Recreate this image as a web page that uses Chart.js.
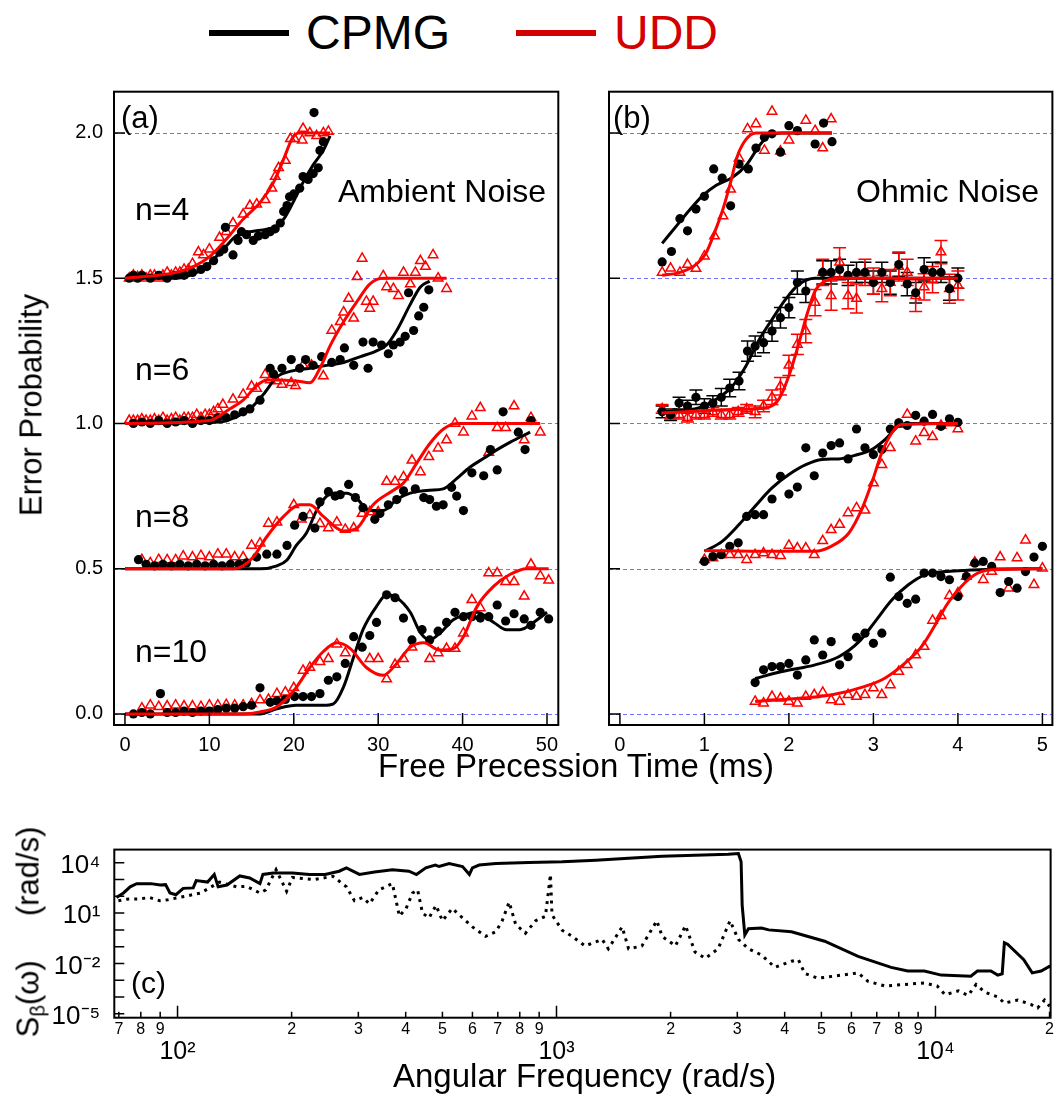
<!DOCTYPE html>
<html>
<head>
<meta charset="utf-8">
<script src="https://cdn.jsdelivr.net/npm/chart.js@4.4.1/dist/chart.umd.min.js"></script>
<style>
  body { margin: 0; background: #fff; width: 1056px; height: 1103px; overflow: hidden; position: relative;
         font-family: 'Liberation Sans', Arial, sans-serif; }
  canvas { position: absolute; }
  .t { position: absolute; white-space: nowrap; line-height: 1; color: #000; }
  .rot { transform: translate(-50%, -50%) rotate(-90deg); }
  .bar { position: absolute; height: 6px; width: 80px; top: 30px; }
  sub { font-size: 0.65em; vertical-align: -0.3em; line-height: 0; }
</style>
</head>
<body>
<canvas id="chartA" width="570" height="740" style="left:0;top:60px"></canvas>
<canvas id="chartB" width="486" height="740" style="left:570px;top:60px"></canvas>
<canvas id="chartC" width="1056" height="283" style="left:0;top:820px"></canvas>

<div class="bar" style="left:209px;background:#000"></div>
<div class="t" style="left:306px;top:9px;font-size:48px">CPMG</div>
<div class="bar" style="left:516px;background:#d40000"></div>
<div class="t" style="left:614px;top:9px;font-size:48px;color:#d40000">UDD</div>

<div class="t" style="left:121px;top:102px;font-size:31px">(a)</div>
<div class="t" style="left:613px;top:102px;font-size:31px">(b)</div>
<div class="t" style="left:135px;top:193px;font-size:32px">n=4</div>
<div class="t" style="left:135px;top:353px;font-size:32px">n=6</div>
<div class="t" style="left:135px;top:500px;font-size:32px">n=8</div>
<div class="t" style="left:135px;top:635px;font-size:32px">n=10</div>
<div class="t" style="left:338px;top:175px;font-size:32px">Ambient Noise</div>
<div class="t" style="left:856px;top:175px;font-size:32px">Ohmic Noise</div>
<div class="t" style="left:131px;top:968px;font-size:30px">(c)</div>

<div class="t rot" style="left:31px;top:405px;font-size:31px">Error Probability</div>
<div class="t" style="left:378px;top:749px;font-size:33px">Free Precession Time (ms)</div>
<div class="t rot" style="left:28px;top:932px;font-size:31px">S<sub>β</sub>(ω)<span style="display:inline-block;width:44px"></span>(rad/s)</div>
<div class="t" style="left:393px;top:1059px;font-size:33px">Angular Frequency (rad/s)</div>

<script>
// ---------- panel (a): ambient noise ----------
const a4CpmgX = [0.5, 1, 1.5, 2, 3, 4, 5, 6, 7, 8, 9, 9.7, 10.5, 11.2, 11.7, 11.9, 12.8, 13.4, 13.8, 14.4, 15.2, 15.8, 16.6, 17.2, 17.8, 18.4, 18.8, 19.2, 19.5, 20.0, 20.7, 21.1, 21.7, 22.3, 22.4, 22.9, 23.1, 23.5];
const a4CpmgY = [1.50, 1.51, 1.50, 1.51, 1.50, 1.51, 1.50, 1.51, 1.51, 1.52, 1.53, 1.54, 1.56, 1.59, 1.60, 1.675, 1.58, 1.63, 1.66, 1.65, 1.63, 1.645, 1.65, 1.66, 1.67, 1.69, 1.73, 1.75, 1.78, 1.79, 1.81, 1.85, 1.84, 1.86, 2.07, 1.88, 1.94, 1.97];
const a4UddX = [0.5, 1, 1.5, 2, 2.5, 3, 3.5, 4, 4.5, 5, 5.5, 6, 6.5, 7, 7.5, 8, 8.7, 9.3, 10, 11.2, 12, 12.8, 14.0, 14.8, 15.6, 16.6, 17.4, 17.8, 18.2, 19.0, 19.6, 20.1, 21.0, 21.1, 21.9, 22.7, 23.5, 24.1];
const a4UddY = [1.50, 1.51, 1.505, 1.51, 1.50, 1.51, 1.51, 1.50, 1.51, 1.52, 1.51, 1.52, 1.52, 1.53, 1.53, 1.55, 1.59, 1.58, 1.60, 1.64, 1.66, 1.69, 1.72, 1.75, 1.755, 1.77, 1.81, 1.85, 1.88, 1.905, 1.98, 1.98, 1.975, 2.015, 2.0, 1.99, 2.0, 2.005];
const a4CpmgFitX = [0, 6.1, 8.5, 10.1, 12, 13.2, 14.8, 16.8, 18, 18.8, 19.9, 21.1, 22.3, 23.5, 24.3];
const a4CpmgFitY = [1.50, 1.50, 1.52, 1.554, 1.611, 1.646, 1.66, 1.669, 1.68, 1.703, 1.76, 1.83, 1.89, 1.94, 1.99];
const a4UddFitX = [0, 6.1, 8.1, 10.1, 12, 14, 16, 17.6, 18.8, 19.8, 20.6, 24.3];
const a4UddFitY = [1.50, 1.52, 1.54, 1.576, 1.634, 1.703, 1.76, 1.83, 1.91, 1.98, 2.0, 2.0];

const a6CpmgX = [1, 2, 3, 4, 5, 6, 7, 8, 9, 10, 11, 12, 13, 14, 14.8, 16, 17.2, 17.6, 18.6, 19.7, 20.7, 21.4, 22.3, 23.3, 24.5, 25.5, 26, 27.1, 28.2, 28.8, 29.4, 30.4, 31.2, 31.8, 32.6, 33.2, 33.6, 34.2, 34.8, 35.4, 36];
const a6CpmgY = [1.0, 1.005, 1.0, 1.01, 1.0, 1.005, 1.01, 1.0, 1.01, 1.01, 1.02, 1.02, 1.03, 1.04, 1.05, 1.08, 1.19, 1.17, 1.19, 1.22, 1.19, 1.22, 1.20, 1.23, 1.21, 1.22, 1.26, 1.20, 1.28, 1.19, 1.28, 1.27, 1.24, 1.27, 1.28, 1.30, 1.45, 1.32, 1.37, 1.40, 1.46];
const a6UddX = [0.5, 1, 1.5, 2, 2.5, 3, 3.5, 4, 4.5, 5, 5.5, 6, 6.5, 7, 7.5, 8, 8.5, 9, 9.5, 10, 10.5, 11, 11.6, 12.8, 14, 15, 15.6, 16.6, 17.2, 18, 18.6, 19.7, 20.2, 21.1, 22.1, 23.5, 24.5, 25.5, 25.9, 26.5, 27.1, 27.5, 28.1, 28.6, 29, 29.4, 30.6, 31, 31.8, 32.4, 33, 33.8, 34.4, 35, 35.6, 36.5, 37.1, 38.1];
const a6UddY = [1.01, 1.01, 1.01, 1.015, 1.01, 1.01, 1.015, 1.01, 1.02, 1.01, 1.015, 1.02, 1.01, 1.02, 1.02, 1.02, 1.03, 1.02, 1.03, 1.03, 1.04, 1.05, 1.065, 1.083, 1.10, 1.128, 1.12, 1.168, 1.15, 1.146, 1.134, 1.14, 1.13, 1.20, 1.20, 1.163, 1.32, 1.35, 1.383, 1.43, 1.362, 1.505, 1.568, 1.42, 1.396, 1.42, 1.508, 1.47, 1.464, 1.44, 1.52, 1.48, 1.52, 1.56, 1.54, 1.58, 1.50, 1.464];
const a6CpmgFitX = [0, 11.3, 13, 14.8, 16.4, 18, 19.7, 21.9, 23.9, 25.9, 27.9, 29.8, 31, 32.2, 33.8, 35, 36.1];
const a6CpmgFitY = [1.0, 1.005, 1.02, 1.05, 1.10, 1.16, 1.18, 1.19, 1.20, 1.21, 1.23, 1.25, 1.27, 1.32, 1.41, 1.47, 1.49];
const a6UddFitX = [0, 10, 12.4, 14, 15.6, 16.8, 18, 20.3, 21.9, 23.1, 24.3, 25.9, 27.5, 29, 30.6, 38.1];
const a6UddFitY = [1.0, 1.01, 1.05, 1.08, 1.13, 1.15, 1.15, 1.146, 1.14, 1.19, 1.267, 1.35, 1.42, 1.48, 1.50, 1.50];

const a8CpmgX = [1.6, 2.5, 3.5, 4.5, 5.5, 6.5, 7.5, 8.5, 9.5, 10.5, 11.5, 12.5, 13.5, 14.4, 15.6, 16.8, 18, 19.2, 20.1, 21.1, 22.5, 23.1, 24.1, 24.9, 25.5, 26.5, 27.3, 28.2, 29.6, 30.2, 31.2, 32.2, 33, 34.4, 35.4, 36.1, 36.9, 37.7, 38.7, 39.3, 40.1, 41.1, 42.5, 43.3, 44.1, 44.8, 46.6, 47.4, 48.1];
const a8CpmgY = [0.531, 0.515, 0.51, 0.515, 0.51, 0.515, 0.51, 0.515, 0.51, 0.515, 0.51, 0.515, 0.515, 0.52, 0.54, 0.55, 0.55, 0.58, 0.65, 0.68, 0.64, 0.73, 0.765, 0.75, 0.755, 0.79, 0.745, 0.71, 0.67, 0.69, 0.72, 0.738, 0.768, 0.775, 0.745, 0.738, 0.715, 0.72, 0.78, 0.75, 0.70, 0.83, 0.82, 0.91, 0.84, 1.04, 0.97, 0.91, 1.01];
const a8UddX = [2, 3, 4, 5, 6, 6.9, 8, 9, 10, 11, 12, 13, 14, 15, 16, 17, 18, 20, 20.9, 21.9, 23.1, 24.1, 25.1, 26.1, 27.1, 28.1, 29, 30, 31, 32, 33, 34, 35, 36, 37.1, 38.1, 39.1, 40.1, 41.1, 42.1, 43.1, 44.1, 45.1, 46.1, 47.3, 48.1, 49.2];
const a8UddY = [0.531, 0.52, 0.531, 0.53, 0.53, 0.543, 0.54, 0.545, 0.54, 0.55, 0.55, 0.54, 0.54, 0.58, 0.588, 0.656, 0.66, 0.72, 0.67, 0.685, 0.655, 0.64, 0.66, 0.635, 0.64, 0.69, 0.695, 0.695, 0.80, 0.80, 0.816, 0.873, 0.833, 0.885, 0.915, 0.943, 1.0, 0.97, 1.025, 1.054, 0.90, 0.985, 0.985, 1.06, 0.943, 1.02, 0.97];
const a8CpmgFitX = [0, 16, 18, 19.2, 20.3, 21.5, 22.7, 23.9, 25.1, 26.3, 27.5, 29, 30.6, 32.2, 33.8, 36.1, 37.7, 39.3, 40.9, 42.5, 44.1, 45.6, 48];
const a8CpmgFitY = [0.50, 0.50, 0.51, 0.53, 0.58, 0.623, 0.70, 0.75, 0.76, 0.76, 0.74, 0.70, 0.70, 0.738, 0.76, 0.77, 0.775, 0.81, 0.85, 0.88, 0.91, 0.935, 0.97];
const a8UddFitX = [0, 13, 14, 15.2, 16.8, 18.8, 20.7, 21.9, 23.5, 25.9, 27.5, 29.4, 31.8, 33, 34.6, 36.1, 37.7, 39.3, 49.2];
const a8UddFitY = [0.50, 0.50, 0.51, 0.54, 0.61, 0.68, 0.72, 0.72, 0.68, 0.63, 0.64, 0.72, 0.77, 0.795, 0.865, 0.93, 0.98, 1.0, 1.0];

const a10CpmgX = [1, 2, 3, 4.2, 5, 6, 7, 8, 9, 10, 11, 12, 13, 14, 15, 16, 17.2, 18, 19, 20.1, 21.1, 22.1, 23.1, 24.1, 25.1, 26.1, 27.1, 28.1, 29, 29.8, 31, 32, 33, 34, 35.2, 36.1, 37.1, 38.1, 39.1, 40.1, 41.1, 42.1, 43.1, 44.1, 45.1, 46.1, 47.3, 48.1, 49.2, 50.2];
const a10CpmgY = [0.0, 0.005, 0.0, 0.07, 0.005, 0.005, 0.01, 0.005, 0.01, 0.01, 0.015, 0.02, 0.02, 0.025, 0.03, 0.09, 0.04, 0.045, 0.05, 0.06, 0.06, 0.06, 0.07, 0.116, 0.128, 0.174, 0.266, 0.23, 0.27, 0.315, 0.41, 0.40, 0.33, 0.255, 0.29, 0.255, 0.285, 0.315, 0.35, 0.335, 0.335, 0.33, 0.335, 0.375, 0.32, 0.345, 0.327, 0.305, 0.35, 0.327];
const a10UddX = [2, 3, 4, 5, 6, 7, 8, 9, 10, 11, 12, 13, 14, 15, 16, 17, 18, 19, 20, 21.1, 21.9, 23.1, 24.1, 25.1, 26.1, 29, 30, 31, 32, 33, 34, 36.1, 37.1, 38.1, 39.1, 40.1, 41.1, 42.1, 43.1, 44.1, 45.1, 46.1, 47.3, 48.1, 49.2, 50.2];
const a10UddY = [0.02, 0.03, 0.025, 0.027, 0.03, 0.027, 0.027, 0.025, 0.03, 0.03, 0.032, 0.03, 0.03, 0.035, 0.048, 0.05, 0.07, 0.075, 0.09, 0.15, 0.16, 0.18, 0.19, 0.24, 0.21, 0.19, 0.19, 0.12, 0.17, 0.19, 0.23, 0.19, 0.21, 0.225, 0.225, 0.278, 0.393, 0.365, 0.485, 0.485, 0.455, 0.455, 0.405, 0.515, 0.475, 0.46];
const a10CpmgFitX = [0, 16, 18, 20.3, 23.5, 24.7, 25.9, 27.1, 28.2, 29.8, 31, 32.2, 33.8, 35, 36.1, 37.3, 38.9, 40.1, 41.7, 43.7, 45.2, 46.8, 48.4, 50];
const a10CpmgFitY = [0, 0.0, 0.018, 0.03, 0.03, 0.035, 0.093, 0.197, 0.29, 0.37, 0.41, 0.40, 0.35, 0.28, 0.255, 0.278, 0.324, 0.34, 0.35, 0.315, 0.29, 0.29, 0.315, 0.35];
const a10UddFitX = [0, 14, 16, 18, 20, 21.9, 23.5, 25.1, 26.7, 28.6, 30.6, 32.2, 33.8, 35.4, 37.3, 38.9, 40.1, 41.7, 43.7, 45.6, 47.6, 50.2];
const a10UddFitY = [0, 0.0, 0.007, 0.025, 0.08, 0.16, 0.215, 0.245, 0.225, 0.16, 0.133, 0.174, 0.23, 0.245, 0.22, 0.225, 0.266, 0.37, 0.44, 0.48, 0.50, 0.50];

// ---------- panel (b): ohmic noise ----------
const b1CpmgX = [0.5, 0.61, 0.71, 0.8, 0.9, 1.0, 1.11, 1.21, 1.31, 1.41, 1.52, 1.61, 1.71, 1.8, 1.9, 2.0, 2.1, 2.31, 2.41, 2.51];
const b1CpmgY = [1.556, 1.592, 1.705, 1.663, 1.738, 1.782, 1.876, 1.845, 1.749, 1.893, 1.876, 1.948, 1.985, 1.997, 1.934, 2.025, 2.008, 1.962, 2.034, 1.97];
const b1UddX = [0.5, 0.6, 0.71, 0.8, 0.9, 1.0, 1.12, 1.22, 1.31, 1.41, 1.51, 1.61, 1.71, 1.8, 1.9, 2.0, 2.2, 2.31, 2.4, 2.5];
const b1UddY = [1.52, 1.534, 1.52, 1.547, 1.533, 1.576, 1.645, 1.714, 1.806, 1.913, 2.014, 2.031, 1.94, 2.074, 1.937, 1.975, 2.043, 2.008, 1.948, 2.048];
const b1CpmgFitX = [0.5, 0.67, 0.82, 0.98, 1.14, 1.33, 1.49, 1.65, 1.76, 1.92, 2.51];
const b1CpmgFitY = [1.62, 1.68, 1.733, 1.784, 1.82, 1.847, 1.887, 1.956, 1.99, 2.0, 2.0];
const b1UddFitX = [0.5, 0.71, 0.9, 1.02, 1.12, 1.22, 1.31, 1.39, 1.49, 1.61, 2.51];
const b1UddFitY = [1.51, 1.52, 1.547, 1.587, 1.657, 1.738, 1.83, 1.92, 1.977, 2.0, 2.0];

const b2CpmgX = [0.5, 0.6, 0.7, 0.8, 0.9, 1.0, 1.1, 1.2, 1.3, 1.41, 1.51, 1.6, 1.7, 1.8, 1.9, 2.0, 2.1, 2.2, 2.4, 2.5, 2.6, 2.7, 2.8, 2.9, 3.0, 3.1, 3.2, 3.3, 3.4, 3.5, 3.6, 3.7, 3.8, 3.9, 4.0];
const b2CpmgY = [1.04, 1.03, 1.07, 1.06, 1.09, 1.06, 1.07, 1.09, 1.122, 1.146, 1.249, 1.266, 1.278, 1.318, 1.364, 1.399, 1.485, 1.456, 1.52, 1.52, 1.53, 1.51, 1.52, 1.52, 1.485, 1.52, 1.485, 1.547, 1.48, 1.45, 1.53, 1.52, 1.52, 1.464, 1.5];
const b2CpmgErr = [0.02, 0.02, 0.02, 0.02, 0.025, 0.025, 0.025, 0.03, 0.03, 0.03, 0.035, 0.035, 0.035, 0.035, 0.035, 0.035, 0.04, 0.04, 0.04, 0.04, 0.035, 0.035, 0.035, 0.035, 0.04, 0.035, 0.04, 0.04, 0.04, 0.035, 0.04, 0.035, 0.035, 0.04, 0.035];
const b2UddX = [0.5, 0.6, 0.7, 0.8, 0.9, 1.0, 1.1, 1.2, 1.3, 1.4, 1.5, 1.6, 1.7, 1.8, 1.9, 2.0, 2.1, 2.2, 2.31, 2.4, 2.5, 2.6, 2.7, 2.8, 2.9, 3.0, 3.1, 3.2, 3.3, 3.4, 3.5, 3.6, 3.7, 3.8, 3.9, 4.0];
const b2UddY = [1.05, 1.03, 1.03, 1.02, 1.03, 1.03, 1.04, 1.03, 1.03, 1.04, 1.05, 1.04, 1.06, 1.09, 1.128, 1.2, 1.272, 1.318, 1.416, 1.52, 1.44, 1.555, 1.44, 1.43, 1.52, 1.49, 1.464, 1.485, 1.54, 1.52, 1.44, 1.47, 1.495, 1.59, 1.464, 1.475];
const b2UddErr = [0.015, 0.015, 0.015, 0.015, 0.015, 0.015, 0.015, 0.015, 0.015, 0.015, 0.015, 0.02, 0.02, 0.025, 0.03, 0.035, 0.035, 0.04, 0.045, 0.045, 0.05, 0.05, 0.045, 0.05, 0.045, 0.045, 0.045, 0.045, 0.05, 0.045, 0.055, 0.045, 0.045, 0.04, 0.05, 0.05];
const b2CpmgFitX = [0.49, 0.94, 1.14, 1.33, 1.49, 1.65, 1.8, 1.96, 2.12, 2.31, 4.0];
const b2CpmgFitY = [1.04, 1.054, 1.083, 1.128, 1.197, 1.289, 1.358, 1.427, 1.479, 1.5, 1.5];
const b2UddFitX = [0.49, 1.33, 1.73, 1.88, 2.0, 2.12, 2.22, 2.31, 2.43, 2.59, 4.0];
const b2UddFitY = [1.036, 1.048, 1.054, 1.083, 1.164, 1.278, 1.381, 1.456, 1.49, 1.5, 1.5];

const b3X = [1.0, 1.1, 1.2, 1.3, 1.4, 1.5, 1.6, 1.7, 1.8, 1.9, 2.0, 2.1, 2.2, 2.3, 2.4, 2.5, 2.6, 2.7, 2.8, 2.9, 3.0, 3.1, 3.2, 3.3, 3.4, 3.5, 3.6, 3.7, 3.8, 3.9, 4.0];
const b3CpmgY = [0.525, 0.542, 0.548, 0.577, 0.589, 0.68, 0.686, 0.686, 0.74, 0.818, 0.757, 0.781, 0.916, 0.82, 0.898, 0.924, 0.933, 0.878, 0.981, 0.916, 0.893, 0.91, 0.981, 1.002, 0.993, 1.028, 1.008, 1.031, 0.99, 1.016, 1.004];
const b3UddY = [0.531, 0.537, 0.548, 0.548, 0.548, 0.531, 0.548, 0.554, 0.548, 0.545, 0.58, 0.571, 0.571, 0.548, 0.596, 0.634, 0.652, 0.692, 0.709, 0.701, 0.795, 0.858, 0.916, 0.996, 1.031, 0.939, 0.968, 0.954, 0.993, 1.002, 0.981];
const b3CpmgFitX = [1.0, 1.21, 1.41, 1.6, 1.8, 2.0, 2.2, 2.39, 2.59, 2.78, 2.98, 3.14, 3.29, 3.45, 4.0];
const b3CpmgFitY = [0.56, 0.594, 0.652, 0.715, 0.778, 0.824, 0.858, 0.876, 0.878, 0.89, 0.91, 0.945, 0.99, 1.0, 1.0];
const b3UddFitX = [1.0, 1.73, 2.31, 2.5, 2.71, 2.86, 2.98, 3.1, 3.22, 3.33, 4.0];
const b3UddFitY = [0.563, 0.56, 0.56, 0.577, 0.623, 0.703, 0.795, 0.9, 0.968, 0.996, 1.0];

const b4X = [1.6, 1.7, 1.8, 1.9, 2.0, 2.1, 2.2, 2.3, 2.4, 2.5, 2.6, 2.7, 2.8, 2.9, 3.0, 3.1, 3.2, 3.3, 3.4, 3.5, 3.6, 3.7, 3.8, 3.9, 4.0, 4.1, 4.2, 4.3, 4.4, 4.5, 4.6, 4.7, 4.8, 4.9, 5.0];
const b4CpmgY = [0.108, 0.152, 0.163, 0.163, 0.174, 0.134, 0.186, 0.255, 0.203, 0.249, 0.169, 0.197, 0.264, 0.278, 0.243, 0.278, 0.471, 0.404, 0.381, 0.395, 0.485, 0.485, 0.473, 0.462, 0.404, 0.473, 0.519, 0.525, 0.508, 0.418, 0.456, 0.433, 0.49, 0.54, 0.577];
const b4UddY = [0.043, 0.037, 0.06, 0.054, 0.043, 0.037, 0.06, 0.066, 0.074, 0.048, 0.043, 0.066, 0.06, 0.066, 0.089, 0.066, 0.1, 0.146, 0.169, 0.203, 0.232, 0.322, 0.338, 0.407, 0.416, 0.473, 0.522, 0.462, 0.49, 0.54, 0.433, 0.537, 0.598, 0.445, 0.502];
const b4CpmgFitX = [1.6, 1.92, 2.31, 2.59, 2.83, 3.02, 3.22, 3.41, 3.61, 3.84, 4.08, 4.47, 5.0];
const b4CpmgFitY = [0.122, 0.146, 0.169, 0.197, 0.249, 0.318, 0.393, 0.444, 0.479, 0.49, 0.494, 0.499, 0.5];
const b4UddFitX = [1.6, 2.12, 2.51, 2.9, 3.14, 3.37, 3.57, 3.72, 3.88, 4.04, 4.2, 4.39, 5.0];
const b4UddFitY = [0.043, 0.054, 0.066, 0.095, 0.124, 0.174, 0.232, 0.301, 0.381, 0.439, 0.479, 0.496, 0.5];

// ---------- panel (c): noise spectra ----------
const cOmegaSolid = [69, 72, 75, 78, 85, 90, 93, 95.5, 99, 103.5, 110, 112, 120, 125, 128, 135, 146, 155, 165, 168, 179, 201, 223, 245, 267, 279, 302, 331, 369, 408, 427, 452, 479, 490, 521, 565, 589, 600, 625, 692, 845, 1035, 1270, 1550, 1900, 2320, 2840, 3020, 3070, 3090, 3140, 3210, 3475, 3630, 4170, 5100, 6250, 7640, 8450, 9350, 10350, 12400, 12900, 14000, 14600, 15000, 15200, 15500, 17100, 18000, 19000, 20100];
const cSolid = [85, 160, 370, 575, 575, 470, 500, 160, 125, 300, 320, 870, 710, 2040, 370, 470, 1660, 1260, 575, 2040, 2510, 2510, 2040, 2000, 3160, 5000, 2040, 2820, 3890, 3160, 2000, 5000, 7410, 6030, 9120, 6030, 2040, 5000, 7410, 9120, 10500, 11500, 14100, 19000, 24500, 28800, 33100, 36300, 11500, 29, 0.5, 1.17, 1.3, 1.0, 0.78, 0.21, 0.026, 0.0058, 0.0035, 0.0035, 0.002, 0.0017, 0.0035, 0.0035, 0.002, 0.0024, 0.17, 0.14, 0.0166, 0.0027, 0.0035, 0.0071];
const cOmegaDotted = [69.8, 73.5, 79.4, 84.5, 89.7, 94.4, 105.7, 115, 129, 143, 152, 165, 171, 182, 194, 201, 229, 257, 279, 293, 308, 321, 340, 369, 385, 401, 417, 430, 443, 461, 481, 500, 531, 565, 600, 650, 692, 719, 750, 780, 828, 881, 935, 964, 973, 1035, 1100, 1190, 1320, 1370, 1490, 1550, 1680, 1840, 1900, 2060, 2190, 2320, 2470, 2670, 2870, 3020, 3210, 3475, 3770, 4170, 4350, 4520, 4900, 5650, 6250, 6640, 7350, 8280, 9350, 10100, 10600, 11500, 12200, 12800, 13500, 14600, 15200, 16500, 17900, 18600, 19400, 20000];
const cDotted = [55, 68, 71, 85, 55, 63, 105, 158, 708, 372, 398, 158, 245, 3890, 200, 1350, 1000, 1580, 372, 55, 85, 36, 245, 575, 6.6, 19, 158, 245, 10, 5.2, 29, 3.5, 19, 5.2, 1.5, 0.41, 0.78, 3.5, 45, 2.2, 0.63, 3.5, 6.5, 2040, 7.9, 0.95, 0.41, 0.11, 0.27, 0.074, 1.5, 0.074, 0.11, 3.5, 0.41, 0.11, 1.8, 0.048, 0.02, 0.074, 3.5, 0.27, 0.074, 0.032, 0.0058, 0.0135, 0.0166, 0.0025, 0.0013, 0.002, 0.0027, 0.00085, 0.00045, 0.00055, 0.00068, 0.00045, 0.000135, 0.00023, 0.000123, 0.00055, 0.00019, 0.0001, 0.000043, 0.000065, 0.000035, 0.000022, 0.000065, 0.000028];

// tick values
const probTicks = [0, 0.5, 1.0, 1.5, 2.0];
const timeTicksA = [0, 10, 20, 30, 40, 50];
const timeTicksB = [0, 1, 2, 3, 4, 5];
const refLevels = [0, 0.5, 1.0, 1.5, 2.0];
const omegaTicks = [70, 80, 90, 100, 200, 300, 400, 500, 600, 700, 800, 900, 1000, 2000, 3000, 4000, 5000, 6000, 7000, 8000, 9000, 10000, 20000];
const specTicks = [1e-5, 1e-4, 1e-3, 1e-2, 1e-1, 1, 10, 100, 1e3, 1e4];
const specLabelExp = [4, 1, -2, -5];

const FONT = "'Liberation Sans', Arial, sans-serif";
const RED = '#ff0000';

const pts = (xs, ys) => xs.map((x, i) => ({ x: x, y: ys[i] }));
const dots = (xs, ys) => ({ data: pts(xs, ys), showLine: false, pointStyle: 'circle', pointRadius: 4.6,
  pointBackgroundColor: '#000', pointBorderWidth: 0 });
const tris = (xs, ys) => ({ data: pts(xs, ys), showLine: false, pointStyle: 'triangle', pointRadius: 5.5,
  pointBackgroundColor: 'rgba(0,0,0,0)', pointBorderColor: RED, pointBorderWidth: 1.5 });
const fit = (xs, ys, color) => ({ data: pts(xs, ys), showLine: true, pointRadius: 0, borderColor: color,
  borderWidth: 3, cubicInterpolationMode: 'monotone', fill: false });

const SUP = { '-': '\u207B', '0': '\u2070', '1': '\u00B9', '2': '\u00B2', '3': '\u00B3', '4': '\u2074',
  '5': '\u2075', '6': '\u2076', '7': '\u2077', '8': '\u2078', '9': '\u2079' };
const pow10 = e => '10' + String(e).split('').map(c => SUP[c]).join('');
const isDecade = v => Math.abs(Math.log10(v) - Math.round(Math.log10(v))) < 1e-6;

// frame, dashed reference lines, inward ticks and error bars
function makeFrame(cfg) {
  return {
    id: 'frame',
    beforeDatasetsDraw(chart) {
      const { ctx, chartArea: a, scales } = chart;
      ctx.save();
      ctx.beginPath();
      ctx.rect(a.left, a.top, a.right - a.left, a.bottom - a.top);
      ctx.clip();
      ctx.setLineDash([4, 3]);
      ctx.lineWidth = 1;
      ctx.strokeStyle = '#7373ff';
      (cfg.refLines || []).forEach(v => {
        const y = Math.round(scales.y.getPixelForValue(v)) + 0.5;
        ctx.beginPath(); ctx.moveTo(a.left, y); ctx.lineTo(a.right, y); ctx.stroke();
      });
      ctx.setLineDash([]);
      ctx.lineWidth = 1.5;
      (cfg.errorBars || []).forEach(set => {
        ctx.strokeStyle = set.color;
        set.xs.forEach((xv, i) => {
          const x = scales.x.getPixelForValue(xv);
          const y1 = scales.y.getPixelForValue(set.ys[i] - set.errs[i]);
          const y2 = scales.y.getPixelForValue(set.ys[i] + set.errs[i]);
          ctx.beginPath();
          ctx.moveTo(x, y1); ctx.lineTo(x, y2);
          ctx.moveTo(x - 6.5, y1); ctx.lineTo(x + 6.5, y1);
          ctx.moveTo(x - 6.5, y2); ctx.lineTo(x + 6.5, y2);
          ctx.stroke();
        });
      });
      ctx.restore();
    },
    afterDraw(chart) {
      const { ctx, chartArea: a, scales } = chart;
      ctx.save();
      ctx.strokeStyle = '#000';
      ctx.lineWidth = 1.5;
      ctx.beginPath();
      scales.x.ticks.forEach(t => {
        const x = scales.x.getPixelForValue(t.value);
        ctx.moveTo(x, a.bottom); ctx.lineTo(x, a.bottom - cfg.xTickLen(t.value));
      });
      scales.y.ticks.forEach(t => {
        const y = scales.y.getPixelForValue(t.value);
        ctx.moveTo(a.left, y); ctx.lineTo(a.left + cfg.yTickLen, y);
      });
      ctx.stroke();
      ctx.lineWidth = 2;
      ctx.strokeRect(a.left, a.top, a.right - a.left, a.bottom - a.top);
      ctx.restore();
    }
  };
}

function probScales(xMin, xMax, xTicks, showY, yWidth) {
  return {
    x: {
      type: 'linear', min: xMin, max: xMax,
      afterBuildTicks: s => { s.ticks = xTicks.map(v => ({ value: v })); },
      afterFit: s => { s.height = 40; },
      grid: { display: false, drawTicks: false }, border: { display: false },
      ticks: { autoSkip: false, maxRotation: 0, padding: 8, color: '#000',
        font: { family: FONT, size: 20 }, callback: v => String(v) }
    },
    y: {
      type: 'linear', min: -0.038, max: 2.142,
      afterBuildTicks: s => { s.ticks = probTicks.map(v => ({ value: v })); },
      afterFit: s => { s.width = yWidth; },
      grid: { display: false, drawTicks: false }, border: { display: false },
      ticks: { display: showY, autoSkip: false, padding: 11, color: '#000',
        font: { family: FONT, size: 20 }, callback: v => v.toFixed(1) }
    }
  };
}

const common = {
  responsive: false, animation: false, events: [],
  plugins: { legend: { display: false }, tooltip: { enabled: false } }
};

// panel (a)
new Chart(document.getElementById('chartA'), {
  type: 'scatter',
  data: {
    datasets: [
      fit(a4UddFitX, a4UddFitY, RED), fit(a6UddFitX, a6UddFitY, RED),
      fit(a8UddFitX, a8UddFitY, RED), fit(a10UddFitX, a10UddFitY, RED),
      fit(a4CpmgFitX, a4CpmgFitY, '#000'), fit(a6CpmgFitX, a6CpmgFitY, '#000'),
      fit(a8CpmgFitX, a8CpmgFitY, '#000'), fit(a10CpmgFitX, a10CpmgFitY, '#000'),
      dots(a4CpmgX, a4CpmgY), dots(a6CpmgX, a6CpmgY), dots(a8CpmgX, a8CpmgY), dots(a10CpmgX, a10CpmgY),
      tris(a4UddX, a4UddY), tris(a6UddX, a6UddY), tris(a8UddX, a8UddY), tris(a10UddX, a10UddY)
    ]
  },
  options: Object.assign({}, common, {
    layout: { autoPadding: false, padding: { left: 0, top: 31.7, right: 11.7, bottom: 35 } },
    scales: probScales(-1.3, 51.34, timeTicksA, true, 114)
  }),
  plugins: [makeFrame({ refLines: refLevels, xTickLen: () => 12, yTickLen: 11 })]
});

// panel (b)
new Chart(document.getElementById('chartB'), {
  type: 'scatter',
  data: {
    datasets: [
      fit(b1UddFitX, b1UddFitY, RED), fit(b2UddFitX, b2UddFitY, RED),
      fit(b3UddFitX, b3UddFitY, RED), fit(b4UddFitX, b4UddFitY, RED),
      fit(b1CpmgFitX, b1CpmgFitY, '#000'), fit(b2CpmgFitX, b2CpmgFitY, '#000'),
      fit(b3CpmgFitX, b3CpmgFitY, '#000'), fit(b4CpmgFitX, b4CpmgFitY, '#000'),
      dots(b1CpmgX, b1CpmgY), dots(b2CpmgX, b2CpmgY), dots(b3X, b3CpmgY), dots(b4X, b4CpmgY),
      tris(b1UddX, b1UddY), tris(b2UddX, b2UddY), tris(b3X, b3UddY), tris(b4X, b4UddY)
    ]
  },
  options: Object.assign({}, common, {
    layout: { autoPadding: false, padding: { left: 0, top: 31.7, right: 1, bottom: 35 } },
    scales: probScales(-0.129, 5.118, timeTicksB, false, 39)
  }),
  plugins: [makeFrame({
    refLines: refLevels, xTickLen: () => 12, yTickLen: 11,
    errorBars: [
      { xs: b2CpmgX, ys: b2CpmgY, errs: b2CpmgErr, color: '#000' },
      { xs: b2UddX, ys: b2UddY, errs: b2UddErr, color: RED }
    ]
  })]
});

// panel (c)
new Chart(document.getElementById('chartC'), {
  type: 'scatter',
  data: {
    datasets: [
      { data: pts(cOmegaSolid, cSolid), showLine: true, pointRadius: 0, borderColor: '#000', borderWidth: 3, tension: 0 },
      { data: pts(cOmegaDotted, cDotted), showLine: true, pointRadius: 0, borderColor: '#000', borderWidth: 3,
        borderDash: [3, 5], tension: 0 }
    ]
  },
  options: Object.assign({}, common, {
    layout: { autoPadding: false, padding: { left: 0, top: 16.7, right: 2.7, bottom: 25.3 } },
    scales: {
      x: {
        type: 'logarithmic', min: 68.1, max: 20130,
        afterBuildTicks: s => { s.ticks = omegaTicks.map(v => ({ value: v })); },
        afterFit: s => { s.height = 60; },
        grid: { display: false, drawTicks: false }, border: { display: false },
        ticks: {
          autoSkip: false, maxRotation: 0, minRotation: 0, padding: 2, color: '#000',
          font: c => (c.tick && isDecade(c.tick.value))
            ? { family: FONT, size: 25, lineHeight: 0.86 } : { family: FONT, size: 16 },
          callback: v => isDecade(v)
            ? ['', pow10(Math.round(Math.log10(v)))]
            : String(Math.round(v / Math.pow(10, Math.floor(Math.log10(v) + 1e-9))))
        }
      },
      y: {
        type: 'logarithmic', min: 5.75e-6, max: 61660,
        afterBuildTicks: s => { s.ticks = specTicks.map(v => ({ value: v })); },
        afterFit: s => { s.width = 114.3; },
        grid: { display: false, drawTicks: false }, border: { display: false },
        ticks: {
          autoSkip: false, padding: 14, labelOffset: 3, color: '#000', font: { family: FONT, size: 26 },
          callback: v => {
            const e = Math.round(Math.log10(v));
            return specLabelExp.includes(e) ? pow10(e) : '';
          }
        }
      }
    }
  }),
  plugins: [makeFrame({ xTickLen: v => (isDecade(v) ? 12 : 6), yTickLen: 10 })]
});
</script>
</body>
</html>
